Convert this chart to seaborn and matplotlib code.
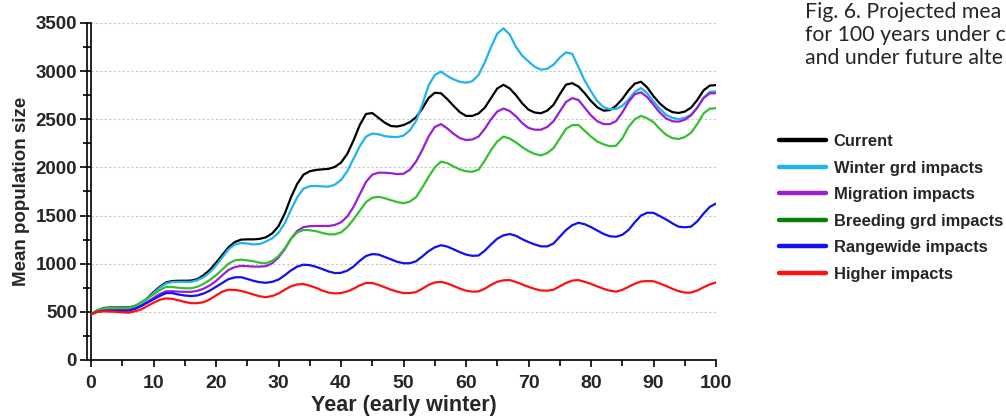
import numpy as np
import pandas as pd
import matplotlib
matplotlib.use("Agg")
import matplotlib.pyplot as plt
from matplotlib.lines import Line2D
import seaborn as sns

# Simulated mean population size for each year 0..100
years = list(range(0, 101))

current = [475, 515, 540, 545, 546, 546, 546, 560, 590, 640, 705, 760, 805, 820, 823, 823,
           825, 840, 880, 935, 1010, 1090, 1170, 1225, 1250, 1253, 1253, 1258, 1275, 1315,
           1390, 1520, 1690, 1830, 1925, 1960, 1974, 1980, 1985, 2005, 2050, 2140, 2280,
           2440, 2555, 2565, 2515, 2465, 2430, 2425, 2440, 2470, 2520, 2610, 2720, 2775,
           2770, 2710, 2640, 2575, 2535, 2535, 2560, 2620, 2720, 2820, 2858, 2820, 2750,
           2665, 2600, 2570, 2563, 2590, 2650, 2760, 2860, 2875, 2840, 2770, 2690, 2625,
           2590, 2595, 2640, 2710, 2800, 2870, 2890, 2830, 2740, 2665, 2610, 2575, 2565,
           2580, 2620, 2700, 2800, 2850, 2855]
winter_grd = [475, 512, 535, 540, 542, 542, 542, 555, 580, 630, 695, 750, 795, 810, 812, 812,
              812, 828, 860, 910, 980, 1065, 1150, 1200, 1215, 1210, 1200, 1205, 1230, 1265,
              1320, 1420, 1560, 1690, 1780, 1805, 1808, 1803, 1800, 1820, 1870, 1960, 2090,
              2220, 2320, 2352, 2345, 2325, 2318, 2315, 2330, 2385, 2480, 2650, 2850, 2960,
              2995, 2950, 2915, 2890, 2880, 2895, 2960, 3090, 3250, 3390, 3445, 3380, 3250,
              3160, 3100, 3045, 3015, 3025, 3067, 3140, 3195, 3180, 3040, 2900, 2790, 2690,
              2626, 2605, 2606, 2640, 2703, 2785, 2824, 2770, 2685, 2610, 2547, 2515, 2502,
              2515, 2547, 2620, 2720, 2785, 2790]
migration = [475, 505, 518, 520, 520, 520, 520, 535, 560, 600, 645, 685, 713, 715, 710, 708,
             708, 718, 740, 775, 820, 880, 935, 965, 978, 975, 970, 970, 975, 1005, 1065,
             1150, 1260, 1340, 1380, 1390, 1392, 1392, 1392, 1402, 1430, 1490, 1590, 1720,
             1850, 1925, 1945, 1945, 1940, 1930, 1935, 1975, 2060, 2180, 2320, 2420, 2450,
             2405, 2350, 2305, 2285, 2290, 2320, 2400, 2500, 2580, 2612, 2585, 2530, 2460,
             2410, 2392, 2392, 2420, 2480, 2580, 2680, 2720, 2700, 2620, 2540, 2480, 2450,
             2450, 2480, 2570, 2680, 2760, 2780, 2730, 2650, 2570, 2510, 2480, 2475, 2495,
             2540, 2620, 2720, 2770, 2770]
breeding_grd = [475, 515, 535, 538, 538, 538, 538, 560, 600, 640, 680, 725, 760, 758, 750,
                745, 745, 760, 790, 830, 880, 940, 1000, 1035, 1042, 1035, 1025, 1010, 1005,
                1030, 1080, 1160, 1260, 1325, 1350, 1348, 1338, 1320, 1305, 1305, 1325, 1380,
                1460, 1550, 1640, 1685, 1695, 1680, 1660, 1640, 1628, 1645, 1690, 1790, 1900,
                2000, 2060, 2045, 2010, 1980, 1960, 1955, 1975, 2070, 2180, 2270, 2320, 2300,
                2260, 2210, 2170, 2140, 2125, 2150, 2200, 2300, 2400, 2440, 2440, 2380, 2320,
                2270, 2240, 2220, 2225, 2300, 2420, 2500, 2535, 2510, 2470, 2400, 2340, 2305,
                2295, 2315, 2360, 2450, 2560, 2610, 2615]
rangewide = [475, 500, 511, 511, 511, 511, 512, 530, 560, 595, 630, 665, 695, 695, 680, 670,
             664, 670, 690, 720, 760, 800, 840, 858, 860, 842, 822, 808, 802, 812, 835, 880,
             930, 970, 990, 985, 968, 945, 920, 903, 905, 928, 970, 1030, 1080, 1100, 1095,
             1070, 1045, 1020, 1005, 1005, 1025, 1075, 1130, 1170, 1192, 1178, 1150, 1120,
             1095, 1082, 1085, 1135, 1200, 1260, 1295, 1308, 1290, 1255, 1225, 1200, 1180,
             1180, 1210, 1280, 1350, 1400, 1425, 1410, 1380, 1345, 1310, 1285, 1280, 1300,
             1350, 1430, 1500, 1530, 1528, 1495, 1460, 1420, 1385, 1378, 1385, 1440, 1520,
             1590, 1625]
higher = [475, 500, 505, 503, 500, 495, 492, 505, 525, 560, 595, 625, 640, 635, 620, 603,
          590, 590, 600, 630, 670, 710, 730, 728, 718, 700, 680, 662, 652, 665, 690, 730,
          765, 785, 788, 772, 750, 722, 700, 692, 695, 712, 740, 775, 800, 800, 780, 755,
          730, 710, 695, 695, 705, 740, 780, 805, 812, 795, 770, 742, 720, 710, 712, 740,
          780, 812, 828, 830, 810, 785, 760, 738, 722, 720, 730, 765, 800, 825, 830, 812,
          790, 765, 740, 720, 710, 728, 760, 792, 815, 820, 818, 795, 770, 740, 715, 700,
          700, 722, 755, 785, 805]

scenarios = ["Current", "Winter grd impacts", "Migration impacts",
             "Breeding grd impacts", "Rangewide impacts", "Higher impacts"]
series = [current, winter_grd, migration, breeding_grd, rangewide, higher]
line_colors = ["#000000", "#1fb4ef", "#9a1ed6", "#35c02f", "#1010f0", "#ff1010"]
legend_colors = ["#000000", "#1fb4ef", "#9a1ed6", "#0a7d0a", "#1010f0", "#ff1010"]

caption = ["Fig. 6. Projected mea", "for 100 years under c", "and under future alte"]

df = pd.DataFrame({
    "Year": np.tile(years, len(scenarios)),
    "Population": np.concatenate(series),
    "Scenario": np.repeat(scenarios, len(years)),
})

sns.set_theme(style="white")
plt.rcParams["font.family"] = ["Liberation Sans", "DejaVu Sans"]

fig = plt.figure(figsize=(10.06, 4.17), dpi=100)
ax = fig.add_axes([91 / 1006, 1 - 360 / 417, (716 - 91) / 1006, (360 - 23) / 417])

sns.lineplot(data=df, x="Year", y="Population", hue="Scenario", hue_order=scenarios,
             palette=dict(zip(scenarios, line_colors)), linewidth=1.6, ax=ax,
             legend=False, zorder=3)

ax.set_xlim(0, 100)
ax.set_ylim(0, 3500)
ax.set_xticks(range(0, 101, 10))
ax.set_xticks(range(0, 101, 5), minor=True)
ax.set_yticks(range(0, 3501, 500))
ax.set_yticks(range(0, 3501, 250), minor=True)

for y in range(500, 3501, 500):
    ax.axhline(y, color="#c8c8c8", linestyle=(0, (2, 2)), linewidth=0.8, zorder=1)

for side in ["top", "right"]:
    ax.spines[side].set_visible(False)
for side in ["left", "bottom"]:
    ax.spines[side].set_color("black")
    ax.spines[side].set_linewidth(1.2)
# doubled vertical axis rule
ax.axvline(-0.6, color="black", linewidth=1.2, clip_on=False, zorder=4)

ax.tick_params(axis="both", which="both", direction="out", color="black",
               bottom=True, left=True, width=1.2)
ax.tick_params(axis="x", which="major", length=5, pad=6)
ax.tick_params(axis="x", which="minor", length=4)
ax.tick_params(axis="y", which="major", length=8, pad=2)
ax.tick_params(axis="y", which="minor", length=6)

for lab in ax.get_xticklabels():
    lab.set_fontsize(14)
    lab.set_fontweight("bold")
for lab in ax.get_yticklabels():
    lab.set_fontsize(13.5)
    lab.set_fontweight("bold")

ax.set_xlabel("Year (early winter)", fontsize=15.5, fontweight="bold", labelpad=2)
ax.set_ylabel("Mean population size", fontsize=13.5, fontweight="bold", labelpad=4)

handles = [Line2D([0], [0], color=c, linewidth=3.2) for c in legend_colors]
fig.legend(handles, scenarios, loc="upper left", bbox_to_anchor=(779 / 1006, 1 - 134 / 417),
           frameon=False, prop={"weight": "bold", "size": 11.9}, handlelength=2.85,
           handletextpad=0.45, labelspacing=0.7, borderpad=0, borderaxespad=0)

for i, line in enumerate(caption):
    fig.text(805 / 1006, 1 - (12 + 23 * i) / 417, line, fontsize=15.3,
             family=["Lato", "DejaVu Sans"], va="center", ha="left")

fig.savefig("out.png", dpi=100)
